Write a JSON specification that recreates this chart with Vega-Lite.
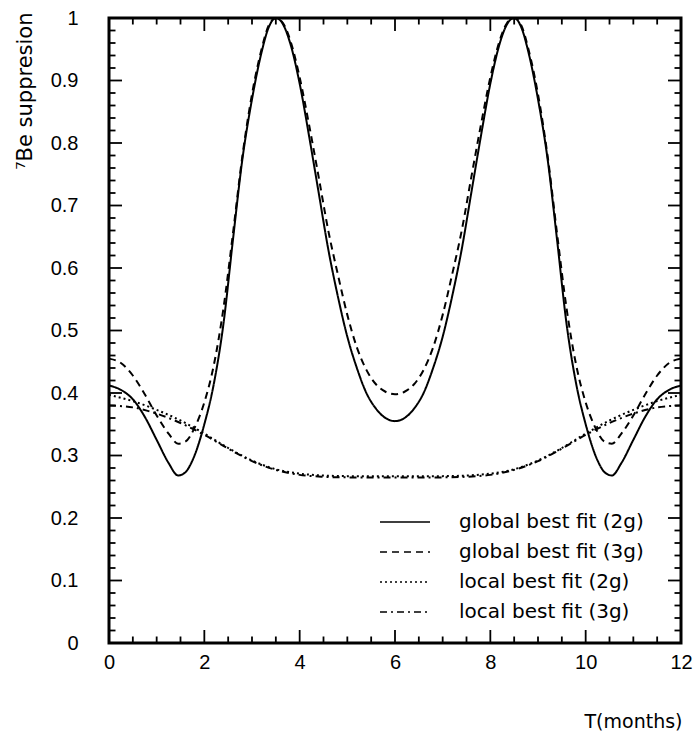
{
  "$schema": "https://vega.github.io/schema/vega-lite/v6.json",
  "width": 572,
  "height": 625,
  "autosize": "none",
  "padding": {"left": 109, "top": 18, "right": 18, "bottom": 97},
  "background": "white",
  "config": {
    "view": {"stroke": "black", "strokeWidth": 3},
    "font": "Liberation Sans"
  },
  "datasets": {
    "yticks": [
      {"v": 0, "k": "major"}, {"v": 0.02, "k": "minor"}, {"v": 0.04, "k": "minor"}, {"v": 0.06, "k": "minor"}, {"v": 0.08, "k": "minor"},
      {"v": 0.1, "k": "major"}, {"v": 0.12, "k": "minor"}, {"v": 0.14, "k": "minor"}, {"v": 0.16, "k": "minor"}, {"v": 0.18, "k": "minor"},
      {"v": 0.2, "k": "major"}, {"v": 0.22, "k": "minor"}, {"v": 0.24, "k": "minor"}, {"v": 0.26, "k": "minor"}, {"v": 0.28, "k": "minor"},
      {"v": 0.3, "k": "major"}, {"v": 0.32, "k": "minor"}, {"v": 0.34, "k": "minor"}, {"v": 0.36, "k": "minor"}, {"v": 0.38, "k": "minor"},
      {"v": 0.4, "k": "major"}, {"v": 0.42, "k": "minor"}, {"v": 0.44, "k": "minor"}, {"v": 0.46, "k": "minor"}, {"v": 0.48, "k": "minor"},
      {"v": 0.5, "k": "major"}, {"v": 0.52, "k": "minor"}, {"v": 0.54, "k": "minor"}, {"v": 0.56, "k": "minor"}, {"v": 0.58, "k": "minor"},
      {"v": 0.6, "k": "major"}, {"v": 0.62, "k": "minor"}, {"v": 0.64, "k": "minor"}, {"v": 0.66, "k": "minor"}, {"v": 0.68, "k": "minor"},
      {"v": 0.7, "k": "major"}, {"v": 0.72, "k": "minor"}, {"v": 0.74, "k": "minor"}, {"v": 0.76, "k": "minor"}, {"v": 0.78, "k": "minor"},
      {"v": 0.8, "k": "major"}, {"v": 0.82, "k": "minor"}, {"v": 0.84, "k": "minor"}, {"v": 0.86, "k": "minor"}, {"v": 0.88, "k": "minor"},
      {"v": 0.9, "k": "major"}, {"v": 0.92, "k": "minor"}, {"v": 0.94, "k": "minor"}, {"v": 0.96, "k": "minor"}, {"v": 0.98, "k": "minor"},
      {"v": 1, "k": "major"}
    ],
    "xticks": [
      {"T": 0, "k": "major"}, {"T": 0.5, "k": "minor"}, {"T": 1, "k": "minor"}, {"T": 1.5, "k": "minor"},
      {"T": 2, "k": "major"}, {"T": 2.5, "k": "minor"}, {"T": 3, "k": "minor"}, {"T": 3.5, "k": "minor"},
      {"T": 4, "k": "major"}, {"T": 4.5, "k": "minor"}, {"T": 5, "k": "minor"}, {"T": 5.5, "k": "minor"},
      {"T": 6, "k": "major"}, {"T": 6.5, "k": "minor"}, {"T": 7, "k": "minor"}, {"T": 7.5, "k": "minor"},
      {"T": 8, "k": "major"}, {"T": 8.5, "k": "minor"}, {"T": 9, "k": "minor"}, {"T": 9.5, "k": "minor"},
      {"T": 10, "k": "major"}, {"T": 10.5, "k": "minor"}, {"T": 11, "k": "minor"}, {"T": 11.5, "k": "minor"},
      {"T": 12, "k": "major"}
    ],
    "curves": [
      {"T": 0, "v": 0.412, "s": "global best fit (2g)"},
      {"T": 0.25, "v": 0.405, "s": "global best fit (2g)"},
      {"T": 0.5, "v": 0.39, "s": "global best fit (2g)"},
      {"T": 0.75, "v": 0.362, "s": "global best fit (2g)"},
      {"T": 1, "v": 0.325, "s": "global best fit (2g)"},
      {"T": 1.25, "v": 0.288, "s": "global best fit (2g)"},
      {"T": 1.45, "v": 0.268, "s": "global best fit (2g)"},
      {"T": 1.6, "v": 0.273, "s": "global best fit (2g)"},
      {"T": 1.75, "v": 0.292, "s": "global best fit (2g)"},
      {"T": 2, "v": 0.35, "s": "global best fit (2g)"},
      {"T": 2.2, "v": 0.415, "s": "global best fit (2g)"},
      {"T": 2.4, "v": 0.51, "s": "global best fit (2g)"},
      {"T": 2.6, "v": 0.645, "s": "global best fit (2g)"},
      {"T": 2.8, "v": 0.775, "s": "global best fit (2g)"},
      {"T": 3, "v": 0.87, "s": "global best fit (2g)"},
      {"T": 3.2, "v": 0.945, "s": "global best fit (2g)"},
      {"T": 3.35, "v": 0.985, "s": "global best fit (2g)"},
      {"T": 3.5, "v": 1.0, "s": "global best fit (2g)"},
      {"T": 3.65, "v": 0.99, "s": "global best fit (2g)"},
      {"T": 3.8, "v": 0.96, "s": "global best fit (2g)"},
      {"T": 4, "v": 0.895, "s": "global best fit (2g)"},
      {"T": 4.2, "v": 0.81, "s": "global best fit (2g)"},
      {"T": 4.4, "v": 0.72, "s": "global best fit (2g)"},
      {"T": 4.6, "v": 0.63, "s": "global best fit (2g)"},
      {"T": 4.8, "v": 0.555, "s": "global best fit (2g)"},
      {"T": 5, "v": 0.49, "s": "global best fit (2g)"},
      {"T": 5.2, "v": 0.44, "s": "global best fit (2g)"},
      {"T": 5.4, "v": 0.4, "s": "global best fit (2g)"},
      {"T": 5.6, "v": 0.375, "s": "global best fit (2g)"},
      {"T": 5.8, "v": 0.36, "s": "global best fit (2g)"},
      {"T": 6, "v": 0.355, "s": "global best fit (2g)"},
      {"T": 6.2, "v": 0.36, "s": "global best fit (2g)"},
      {"T": 6.4, "v": 0.375, "s": "global best fit (2g)"},
      {"T": 6.6, "v": 0.4, "s": "global best fit (2g)"},
      {"T": 6.8, "v": 0.44, "s": "global best fit (2g)"},
      {"T": 7, "v": 0.49, "s": "global best fit (2g)"},
      {"T": 7.2, "v": 0.555, "s": "global best fit (2g)"},
      {"T": 7.4, "v": 0.63, "s": "global best fit (2g)"},
      {"T": 7.6, "v": 0.72, "s": "global best fit (2g)"},
      {"T": 7.8, "v": 0.81, "s": "global best fit (2g)"},
      {"T": 8, "v": 0.895, "s": "global best fit (2g)"},
      {"T": 8.2, "v": 0.96, "s": "global best fit (2g)"},
      {"T": 8.35, "v": 0.99, "s": "global best fit (2g)"},
      {"T": 8.5, "v": 1.0, "s": "global best fit (2g)"},
      {"T": 8.65, "v": 0.985, "s": "global best fit (2g)"},
      {"T": 8.8, "v": 0.945, "s": "global best fit (2g)"},
      {"T": 9, "v": 0.87, "s": "global best fit (2g)"},
      {"T": 9.2, "v": 0.775, "s": "global best fit (2g)"},
      {"T": 9.4, "v": 0.645, "s": "global best fit (2g)"},
      {"T": 9.6, "v": 0.51, "s": "global best fit (2g)"},
      {"T": 9.8, "v": 0.415, "s": "global best fit (2g)"},
      {"T": 10, "v": 0.35, "s": "global best fit (2g)"},
      {"T": 10.25, "v": 0.292, "s": "global best fit (2g)"},
      {"T": 10.4, "v": 0.273, "s": "global best fit (2g)"},
      {"T": 10.55, "v": 0.268, "s": "global best fit (2g)"},
      {"T": 10.75, "v": 0.288, "s": "global best fit (2g)"},
      {"T": 11, "v": 0.325, "s": "global best fit (2g)"},
      {"T": 11.25, "v": 0.362, "s": "global best fit (2g)"},
      {"T": 11.5, "v": 0.39, "s": "global best fit (2g)"},
      {"T": 11.75, "v": 0.405, "s": "global best fit (2g)"},
      {"T": 12, "v": 0.412, "s": "global best fit (2g)"},

      {"T": 0, "v": 0.455, "s": "global best fit (3g)"},
      {"T": 0.25, "v": 0.448, "s": "global best fit (3g)"},
      {"T": 0.5, "v": 0.428, "s": "global best fit (3g)"},
      {"T": 0.75, "v": 0.398, "s": "global best fit (3g)"},
      {"T": 1, "v": 0.364, "s": "global best fit (3g)"},
      {"T": 1.25, "v": 0.335, "s": "global best fit (3g)"},
      {"T": 1.45, "v": 0.319, "s": "global best fit (3g)"},
      {"T": 1.6, "v": 0.322, "s": "global best fit (3g)"},
      {"T": 1.8, "v": 0.345, "s": "global best fit (3g)"},
      {"T": 2, "v": 0.385, "s": "global best fit (3g)"},
      {"T": 2.2, "v": 0.445, "s": "global best fit (3g)"},
      {"T": 2.4, "v": 0.535, "s": "global best fit (3g)"},
      {"T": 2.6, "v": 0.655, "s": "global best fit (3g)"},
      {"T": 2.8, "v": 0.78, "s": "global best fit (3g)"},
      {"T": 3, "v": 0.878, "s": "global best fit (3g)"},
      {"T": 3.2, "v": 0.95, "s": "global best fit (3g)"},
      {"T": 3.35, "v": 0.988, "s": "global best fit (3g)"},
      {"T": 3.5, "v": 1.0, "s": "global best fit (3g)"},
      {"T": 3.65, "v": 0.992, "s": "global best fit (3g)"},
      {"T": 3.8, "v": 0.965, "s": "global best fit (3g)"},
      {"T": 4, "v": 0.905, "s": "global best fit (3g)"},
      {"T": 4.2, "v": 0.828, "s": "global best fit (3g)"},
      {"T": 4.4, "v": 0.745, "s": "global best fit (3g)"},
      {"T": 4.6, "v": 0.66, "s": "global best fit (3g)"},
      {"T": 4.8, "v": 0.59, "s": "global best fit (3g)"},
      {"T": 5, "v": 0.525, "s": "global best fit (3g)"},
      {"T": 5.2, "v": 0.473, "s": "global best fit (3g)"},
      {"T": 5.4, "v": 0.437, "s": "global best fit (3g)"},
      {"T": 5.6, "v": 0.414, "s": "global best fit (3g)"},
      {"T": 5.8, "v": 0.402, "s": "global best fit (3g)"},
      {"T": 6, "v": 0.398, "s": "global best fit (3g)"},
      {"T": 6.2, "v": 0.402, "s": "global best fit (3g)"},
      {"T": 6.4, "v": 0.414, "s": "global best fit (3g)"},
      {"T": 6.6, "v": 0.437, "s": "global best fit (3g)"},
      {"T": 6.8, "v": 0.473, "s": "global best fit (3g)"},
      {"T": 7, "v": 0.525, "s": "global best fit (3g)"},
      {"T": 7.2, "v": 0.59, "s": "global best fit (3g)"},
      {"T": 7.4, "v": 0.66, "s": "global best fit (3g)"},
      {"T": 7.6, "v": 0.745, "s": "global best fit (3g)"},
      {"T": 7.8, "v": 0.828, "s": "global best fit (3g)"},
      {"T": 8, "v": 0.905, "s": "global best fit (3g)"},
      {"T": 8.2, "v": 0.965, "s": "global best fit (3g)"},
      {"T": 8.35, "v": 0.992, "s": "global best fit (3g)"},
      {"T": 8.5, "v": 1.0, "s": "global best fit (3g)"},
      {"T": 8.65, "v": 0.988, "s": "global best fit (3g)"},
      {"T": 8.8, "v": 0.95, "s": "global best fit (3g)"},
      {"T": 9, "v": 0.878, "s": "global best fit (3g)"},
      {"T": 9.2, "v": 0.78, "s": "global best fit (3g)"},
      {"T": 9.4, "v": 0.655, "s": "global best fit (3g)"},
      {"T": 9.6, "v": 0.535, "s": "global best fit (3g)"},
      {"T": 9.8, "v": 0.445, "s": "global best fit (3g)"},
      {"T": 10, "v": 0.385, "s": "global best fit (3g)"},
      {"T": 10.2, "v": 0.345, "s": "global best fit (3g)"},
      {"T": 10.4, "v": 0.322, "s": "global best fit (3g)"},
      {"T": 10.55, "v": 0.319, "s": "global best fit (3g)"},
      {"T": 10.75, "v": 0.335, "s": "global best fit (3g)"},
      {"T": 11, "v": 0.364, "s": "global best fit (3g)"},
      {"T": 11.25, "v": 0.398, "s": "global best fit (3g)"},
      {"T": 11.5, "v": 0.428, "s": "global best fit (3g)"},
      {"T": 11.75, "v": 0.448, "s": "global best fit (3g)"},
      {"T": 12, "v": 0.455, "s": "global best fit (3g)"},

      {"T": 0, "v": 0.397, "s": "local best fit (2g)"},
      {"T": 0.5, "v": 0.387, "s": "local best fit (2g)"},
      {"T": 1, "v": 0.373, "s": "local best fit (2g)"},
      {"T": 1.5, "v": 0.356, "s": "local best fit (2g)"},
      {"T": 2, "v": 0.335, "s": "local best fit (2g)"},
      {"T": 2.5, "v": 0.312, "s": "local best fit (2g)"},
      {"T": 3, "v": 0.292, "s": "local best fit (2g)"},
      {"T": 3.5, "v": 0.278, "s": "local best fit (2g)"},
      {"T": 4, "v": 0.271, "s": "local best fit (2g)"},
      {"T": 4.5, "v": 0.268, "s": "local best fit (2g)"},
      {"T": 5, "v": 0.267, "s": "local best fit (2g)"},
      {"T": 5.5, "v": 0.267, "s": "local best fit (2g)"},
      {"T": 6, "v": 0.267, "s": "local best fit (2g)"},
      {"T": 6.5, "v": 0.267, "s": "local best fit (2g)"},
      {"T": 7, "v": 0.267, "s": "local best fit (2g)"},
      {"T": 7.5, "v": 0.268, "s": "local best fit (2g)"},
      {"T": 8, "v": 0.271, "s": "local best fit (2g)"},
      {"T": 8.5, "v": 0.278, "s": "local best fit (2g)"},
      {"T": 9, "v": 0.292, "s": "local best fit (2g)"},
      {"T": 9.5, "v": 0.312, "s": "local best fit (2g)"},
      {"T": 10, "v": 0.335, "s": "local best fit (2g)"},
      {"T": 10.5, "v": 0.356, "s": "local best fit (2g)"},
      {"T": 11, "v": 0.373, "s": "local best fit (2g)"},
      {"T": 11.5, "v": 0.387, "s": "local best fit (2g)"},
      {"T": 12, "v": 0.397, "s": "local best fit (2g)"},

      {"T": 0, "v": 0.38, "s": "local best fit (3g)"},
      {"T": 0.5, "v": 0.377, "s": "local best fit (3g)"},
      {"T": 1, "v": 0.367, "s": "local best fit (3g)"},
      {"T": 1.5, "v": 0.352, "s": "local best fit (3g)"},
      {"T": 2, "v": 0.333, "s": "local best fit (3g)"},
      {"T": 2.5, "v": 0.311, "s": "local best fit (3g)"},
      {"T": 3, "v": 0.291, "s": "local best fit (3g)"},
      {"T": 3.5, "v": 0.277, "s": "local best fit (3g)"},
      {"T": 4, "v": 0.269, "s": "local best fit (3g)"},
      {"T": 4.5, "v": 0.266, "s": "local best fit (3g)"},
      {"T": 5, "v": 0.265, "s": "local best fit (3g)"},
      {"T": 5.5, "v": 0.265, "s": "local best fit (3g)"},
      {"T": 6, "v": 0.265, "s": "local best fit (3g)"},
      {"T": 6.5, "v": 0.265, "s": "local best fit (3g)"},
      {"T": 7, "v": 0.265, "s": "local best fit (3g)"},
      {"T": 7.5, "v": 0.266, "s": "local best fit (3g)"},
      {"T": 8, "v": 0.269, "s": "local best fit (3g)"},
      {"T": 8.5, "v": 0.277, "s": "local best fit (3g)"},
      {"T": 9, "v": 0.291, "s": "local best fit (3g)"},
      {"T": 9.5, "v": 0.311, "s": "local best fit (3g)"},
      {"T": 10, "v": 0.333, "s": "local best fit (3g)"},
      {"T": 10.5, "v": 0.352, "s": "local best fit (3g)"},
      {"T": 11, "v": 0.367, "s": "local best fit (3g)"},
      {"T": 11.5, "v": 0.377, "s": "local best fit (3g)"},
      {"T": 12, "v": 0.38, "s": "local best fit (3g)"}
    ]
  },
  "layer": [
    {
      "data": {"name": "curves"},
      "mark": {"type": "line", "interpolate": "monotone", "color": "black", "strokeWidth": 2},
      "encoding": {
        "x": {
          "field": "T", "type": "quantitative",
          "scale": {"domain": [0, 12], "nice": false, "zero": false},
          "axis": {
            "orient": "bottom",
            "values": [0, 2, 4, 6, 8, 10, 12],
            "domain": false, "grid": false, "ticks": false, "tickSize": 0,
            "format": "d",
            "labelFont": "Liberation Sans", "labelFontSize": 20, "labelColor": "black",
            "labelPadding": 9, "labelBaseline": "top", "labelFlush": false, "labelOverlap": false,
            "title": "T(months)",
            "titleFont": "DejaVu Sans", "titleFontSize": 19, "titleFontWeight": "normal", "titleColor": "black",
            "titleAnchor": "end", "titleAlign": "right", "titleBaseline": "alphabetic",
            "titleX": 573, "titleY": 84
          }
        },
        "y": {
          "field": "v", "type": "quantitative",
          "scale": {"domain": [0, 1], "nice": false, "zero": false},
          "axis": {
            "orient": "left",
            "values": [0, 0.1, 0.2, 0.3, 0.4, 0.5, 0.6, 0.7, 0.8, 0.9, 1],
            "domain": false, "grid": false, "ticks": false, "tickSize": 0,
            "format": "~g",
            "labelFont": "Liberation Sans", "labelFontSize": 20, "labelColor": "black",
            "labelPadding": 31, "labelFlush": false, "labelOverlap": false, "labelBaseline": "middle",
            "title": "⁷Be suppresion",
            "titleFont": "DejaVu Sans", "titleFontSize": 21, "titleFontWeight": "normal", "titleColor": "black",
            "titleAngle": -90, "titleAlign": "right", "titleBaseline": "middle",
            "titleX": -84, "titleY": -6
          }
        },
        "strokeDash": {
          "field": "s", "type": "nominal",
          "scale": {
            "domain": ["global best fit (2g)", "global best fit (3g)", "local best fit (2g)", "local best fit (3g)"],
            "range": [[1, 0], [7, 5], [2, 3], [7, 4, 2, 4]]
          },
          "legend": {
            "orient": "none", "legendX": 286, "legendY": 494, "padding": 0,
            "title": null,
            "symbolType": "M-5,0H5", "symbolSize": 100, "symbolStrokeWidth": 1.5,
            "symbolStrokeColor": "black",
            "labelFont": "DejaVu Sans", "labelFontSize": 20, "labelColor": "black",
            "labelOffset": 44, "rowPadding": 10, "labelLimit": 400
          }
        }
      }
    },
    {
      "data": {"name": "yticks"},
      "mark": {"type": "tick", "orient": "horizontal", "thickness": 1.8, "color": "black", "opacity": 1, "clip": true},
      "encoding": {
        "y": {"field": "v", "type": "quantitative"},
        "x": {"datum": 0, "type": "quantitative"},
        "size": {"field": "k", "type": "nominal", "scale": {"domain": ["major", "minor"], "range": [26, 13]}, "legend": null}
      }
    },
    {
      "data": {"name": "yticks"},
      "mark": {"type": "tick", "orient": "horizontal", "thickness": 1.8, "color": "black", "opacity": 1, "clip": true},
      "encoding": {
        "y": {"field": "v", "type": "quantitative"},
        "x": {"datum": 12, "type": "quantitative"},
        "size": {"field": "k", "type": "nominal", "legend": null}
      }
    },
    {
      "data": {"name": "xticks"},
      "mark": {"type": "tick", "orient": "vertical", "thickness": 1.8, "color": "black", "opacity": 1, "clip": true},
      "encoding": {
        "x": {"field": "T", "type": "quantitative"},
        "y": {"datum": 0, "type": "quantitative"},
        "size": {"field": "k", "type": "nominal", "legend": null}
      }
    },
    {
      "data": {"name": "xticks"},
      "mark": {"type": "tick", "orient": "vertical", "thickness": 1.8, "color": "black", "opacity": 1, "clip": true},
      "encoding": {
        "x": {"field": "T", "type": "quantitative"},
        "y": {"datum": 1, "type": "quantitative"},
        "size": {"field": "k", "type": "nominal", "legend": null}
      }
    }
  ]
}
